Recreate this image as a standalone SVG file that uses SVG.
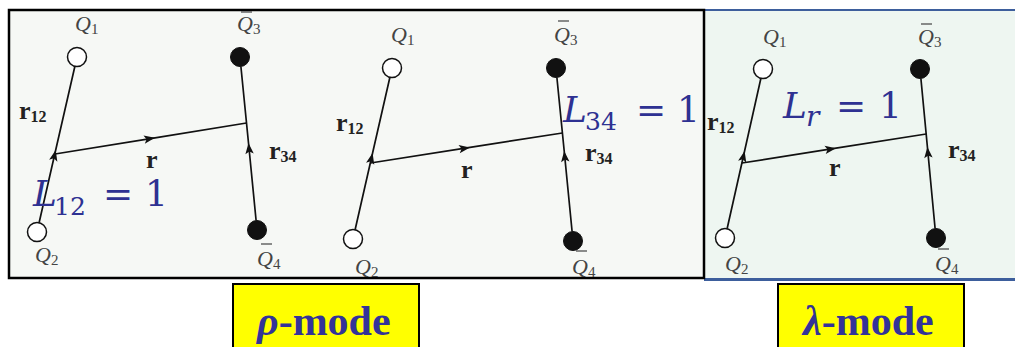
<svg xmlns="http://www.w3.org/2000/svg" width="1015" height="347" viewBox="0 0 1015 347">
<style>
.line{fill:none;stroke:#111;stroke-width:1.7;marker-mid:url(#arr)}
.open{fill:#fff;stroke:#111;stroke-width:1.5}
.full{fill:#111;stroke:#111;stroke-width:1}
.q{font-family:"Liberation Serif",serif;font-style:italic;font-size:22px;fill:#444}
.qs{font-style:normal;font-size:15px}
.bar{stroke:#444;stroke-width:1.2}
.r{font-family:"Liberation Serif",serif;font-weight:bold;font-size:26px;fill:#222}
.rs{font-size:16px}
.L{font-family:"DejaVu Serif",serif;font-size:36px;fill:#2e3192}
.Ls{font-size:25px}
.mode{font-family:"Liberation Serif",serif;font-weight:bold;font-size:42px;fill:#333399}
.box{fill:#ffff00;stroke:#000;stroke-width:2}
</style>
<defs>
<marker id="arr" markerUnits="userSpaceOnUse" orient="auto" refX="0" refY="0" markerWidth="12" markerHeight="10" overflow="visible">
<path d="M0,0 L-11,-4.2 L-8.5,0 L-11,4.2 z" fill="#111"/>
</marker>
</defs>
<rect x="0" y="0" width="1015" height="347" fill="#fff"/>
<g id="panels">
<rect x="704" y="10" width="312" height="269" fill="#eef6f1"/>
<line x1="704" y1="10" x2="1015" y2="10" stroke="#3d5e9c" stroke-width="2"/>
<line x1="704" y1="279.5" x2="1015" y2="279.5" stroke="#3d5e9c" stroke-width="3"/>
<rect x="9" y="10" width="695" height="268" fill="#f6f8f5" stroke="#000" stroke-width="2.5"/>
</g>
<g id="connectors">
<path class="line" d="M39.1,222.7 L55.7,150 L74.9,66.3"/>
<path class="line" d="M55,154 L155,137.8 L246.5,123"/>
<path class="line" d="M256.1,220.5 L248.5,143 L240.9,66.5"/>
<path class="line" d="M355.1,229.7 L372.6,153 L389.9,77.3"/>
<path class="line" d="M370.5,163 L470,147.4 L562.4,133"/>
<path class="line" d="M572.1,231.5 L564.2,151 L556.9,77.5"/>
<path class="line" d="M727.1,228.7 L744.6,151 L760.9,78.3"/>
<path class="line" d="M741.9,163 L836,148.2 L926.2,134"/>
<path class="line" d="M935.1,228.5 L927.4,147 L920.9,78.5"/>
</g>
<g id="p1-Q1"><circle class="open" cx="77" cy="57" r="9.5"/><text class="q" x="75" y="31">Q<tspan class="qs" dy="3">1</tspan></text></g>
<g id="p1-Q2"><circle class="open" cx="37" cy="232" r="9.5"/><text class="q" x="35" y="262">Q<tspan class="qs" dy="3">2</tspan></text></g>
<g id="p1-Q3"><circle class="full" cx="240" cy="57" r="9.5"/><line class="bar" x1="241" y1="12" x2="252" y2="12"/><text class="q" x="237" y="31">Q<tspan class="qs" dy="3">3</tspan></text></g>
<g id="p1-Q4"><circle class="full" cx="257" cy="230" r="9.5"/><line class="bar" x1="261" y1="244" x2="272" y2="244"/><text class="q" x="257" y="266">Q<tspan class="qs" dy="3">4</tspan></text></g>
<g id="p1-labels">
<text class="r" x="19" y="119">r<tspan class="rs" dy="3">12</tspan></text>
<text class="r" x="269" y="159">r<tspan class="rs" dy="3">34</tspan></text>
<text class="r" x="146" y="168">r</text>
<text class="L"><tspan x="33" y="206" font-style="italic">L</tspan><tspan class="Ls" x="54" y="215">12</tspan><tspan x="103" y="206">=</tspan><tspan x="145" y="206">1</tspan></text>
</g>
<g id="p2-Q1"><circle class="open" cx="392" cy="68" r="9.5"/><text class="q" x="391" y="42">Q<tspan class="qs" dy="3">1</tspan></text></g>
<g id="p2-Q2"><circle class="open" cx="353" cy="239" r="9.5"/><text class="q" x="355" y="274">Q<tspan class="qs" dy="3">2</tspan></text></g>
<g id="p2-Q3"><circle class="full" cx="556" cy="68" r="9.5"/><line class="bar" x1="558" y1="21" x2="569" y2="21"/><text class="q" x="554" y="42">Q<tspan class="qs" dy="3">3</tspan></text></g>
<g id="p2-Q4"><circle class="full" cx="573" cy="241" r="9.5"/><line class="bar" x1="576" y1="251" x2="587" y2="251"/><text class="q" x="572" y="274">Q<tspan class="qs" dy="3">4</tspan></text></g>
<g id="p2-labels">
<text class="r" x="336" y="131">r<tspan class="rs" dy="3">12</tspan></text>
<text class="r" x="585" y="161">r<tspan class="rs" dy="3">34</tspan></text>
<text class="r" x="461" y="178">r</text>
<text class="L"><tspan x="563" y="122" font-style="italic">L</tspan><tspan class="Ls" x="585" y="130">34</tspan><tspan x="636" y="122">=</tspan><tspan x="677" y="122">1</tspan></text>
</g>
<g id="p3-Q1"><circle class="open" cx="763" cy="69" r="9.5"/><text class="q" x="763" y="44">Q<tspan class="qs" dy="3">1</tspan></text></g>
<g id="p3-Q2"><circle class="open" cx="725" cy="238" r="9.5"/><text class="q" x="725" y="271">Q<tspan class="qs" dy="3">2</tspan></text></g>
<g id="p3-Q3"><circle class="full" cx="920" cy="69" r="9.5"/><line class="bar" x1="921" y1="24" x2="932" y2="24"/><text class="q" x="918" y="44">Q<tspan class="qs" dy="3">3</tspan></text></g>
<g id="p3-Q4"><circle class="full" cx="936" cy="238" r="9.5"/><line class="bar" x1="938" y1="249" x2="949" y2="249"/><text class="q" x="935" y="271">Q<tspan class="qs" dy="3">4</tspan></text></g>
<g id="p3-labels">
<text class="r" x="707" y="130">r<tspan class="rs" dy="3">12</tspan></text>
<text class="r" x="948" y="158">r<tspan class="rs" dy="3">34</tspan></text>
<text class="r" x="829" y="176">r</text>
<text class="L"><tspan x="783" y="118" font-style="italic">L</tspan><tspan x="806" y="126" font-size="28px" font-style="italic">r</tspan><tspan x="836" y="118">=</tspan><tspan x="879" y="118">1</tspan></text>
</g>
<g id="rho-mode"><rect class="box" x="233" y="284" width="186" height="70"/><text class="mode" x="257" y="335"><tspan font-style="italic">ρ</tspan>-mode</text></g>
<g id="lambda-mode"><rect class="box" x="778" y="284" width="186" height="70"/><text class="mode" x="803" y="335"><tspan font-style="italic">λ</tspan>-mode</text></g>
</svg>
